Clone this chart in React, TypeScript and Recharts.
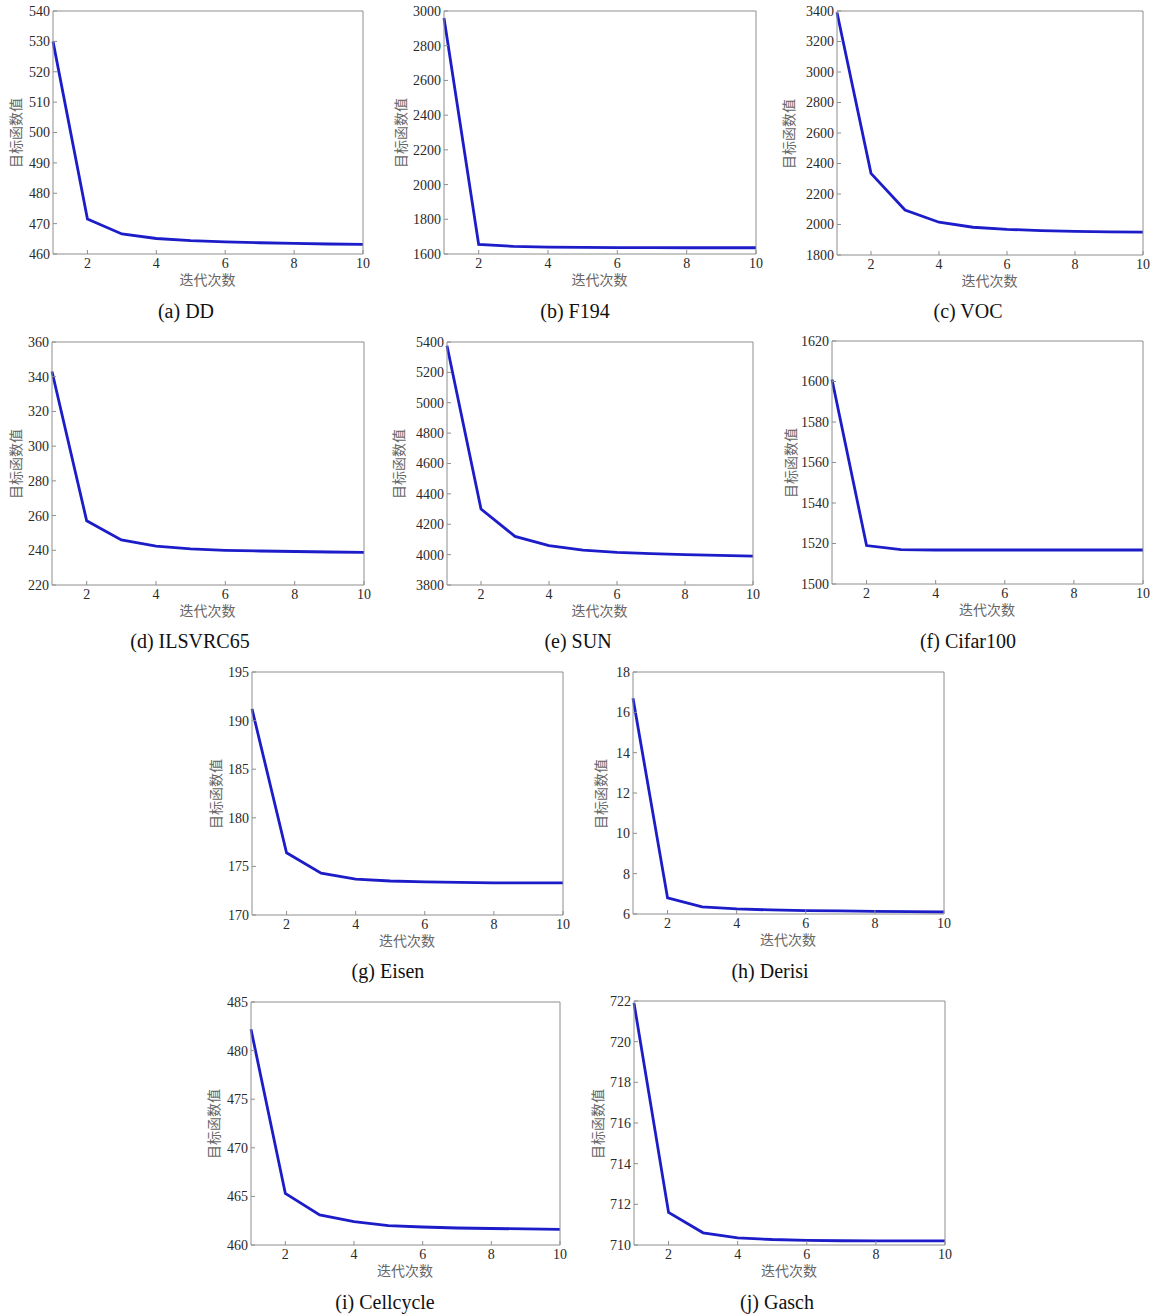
import React from "react";
import { LineChart, Line, XAxis, YAxis } from "recharts";

// iterations on the x axis, shared by every panel
const iterations = [1, 2, 3, 4, 5, 6, 7, 8, 9, 10];
const xTicks = [2, 4, 6, 8, 10];

// objective values
const ddValues = [530, 471.5, 466.6, 465.1, 464.4, 464.0, 463.7, 463.5, 463.3, 463.2];
const f194Values = [2960, 1655, 1644, 1640, 1638, 1637, 1637, 1636, 1636, 1636];
const vocValues = [3390, 2335, 2095, 2015, 1982, 1968, 1960, 1955, 1952, 1950];
const ilsvrcValues = [343, 257, 246, 242.4, 240.8, 240.0, 239.6, 239.3, 239.0, 238.8];
const sunValues = [5375, 4300, 4120, 4060, 4030, 4015, 4006, 4000, 3995, 3990];
const cifarValues = [1601, 1519, 1517, 1516.8, 1516.8, 1516.8, 1516.8, 1516.8, 1516.8, 1516.8];
const eisenValues = [191.2, 176.4, 174.3, 173.7, 173.5, 173.4, 173.35, 173.3, 173.3, 173.3];
const derisiValues = [16.7, 6.8, 6.35, 6.25, 6.2, 6.17, 6.15, 6.13, 6.12, 6.1];
const cellcycleValues = [482.2, 465.3, 463.1, 462.4, 462.0, 461.85, 461.75, 461.7, 461.65, 461.6];
const gaschValues = [721.9, 711.6, 710.6, 710.35, 710.27, 710.23, 710.21, 710.2, 710.2, 710.2];

// y tick labels per panel
const ddTicks = [460, 470, 480, 490, 500, 510, 520, 530, 540];
const f194Ticks = [1600, 1800, 2000, 2200, 2400, 2600, 2800, 3000];
const vocTicks = [1800, 2000, 2200, 2400, 2600, 2800, 3000, 3200, 3400];
const ilsvrcTicks = [220, 240, 260, 280, 300, 320, 340, 360];
const sunTicks = [3800, 4000, 4200, 4400, 4600, 4800, 5000, 5200, 5400];
const cifarTicks = [1500, 1520, 1540, 1560, 1580, 1600, 1620];
const eisenTicks = [170, 175, 180, 185, 190, 195];
const derisiTicks = [6, 8, 10, 12, 14, 16, 18];
const cellcycleTicks = [460, 465, 470, 475, 480, 485];
const gaschTicks = [710, 712, 714, 716, 718, 720, 722];

const Y_LABEL = "目标函数值";
const X_LABEL = "迭代次数";

// box = [left, top, right, bottom] of the plot frame on the page
const panels = [
  { caption: "(a) DD", values: ddValues, ticks: ddTicks, box: [53, 12, 362, 254], labelGap: 38, capX: 186, capY: 311 },
  { caption: "(b) F194", values: f194Values, ticks: f194Ticks, box: [444, 12, 755, 254], labelGap: 44, capX: 575, capY: 311 },
  { caption: "(c) VOC", values: vocValues, ticks: vocTicks, box: [837, 12, 1142, 255], labelGap: 49, capX: 968, capY: 311 },
  { caption: "(d) ILSVRC65", values: ilsvrcValues, ticks: ilsvrcTicks, box: [52, 343, 363, 585], labelGap: 37, capX: 190, capY: 641 },
  { caption: "(e) SUN", values: sunValues, ticks: sunTicks, box: [447, 343, 752, 585], labelGap: 49, capX: 578, capY: 641 },
  { caption: "(f) Cifar100", values: cifarValues, ticks: cifarTicks, box: [832, 342, 1142, 584], labelGap: 42, capX: 968, capY: 641 },
  { caption: "(g) Eisen", values: eisenValues, ticks: eisenTicks, box: [252, 673, 562, 915], labelGap: 37, capX: 388, capY: 971 },
  { caption: "(h) Derisi", values: derisiValues, ticks: derisiTicks, box: [633, 673, 943, 914], labelGap: 33, capX: 770, capY: 971 },
  { caption: "(i) Cellcycle", values: cellcycleValues, ticks: cellcycleTicks, box: [251, 1003, 559, 1245], labelGap: 38, capX: 385, capY: 1302 },
  { caption: "(j) Gasch", values: gaschValues, ticks: gaschTicks, box: [634, 1002, 944, 1245], labelGap: 37, capX: 777, capY: 1302 },
];

const AXIS_W = 60;
const TOP_PAD = 8;
const RIGHT_PAD = 10;
const X_AXIS_H = 24;
const frame = "#8e8e8e";
const tickFont = { fontSize: 14, fill: "#2a2a2a", fontFamily: "Liberation Serif" };

function Panel({ p }: { p: (typeof panels)[number] }) {
  const [l, t, r, b] = p.box;
  const w = r - l;
  const h = b - t;
  const data = iterations.map((it, i) => ({ it, v: p.values[i] }));
  const yMin = p.ticks[0];
  const yMax = p.ticks[p.ticks.length - 1];
  return (
    <>
      <div style={{ position: "absolute", left: l - AXIS_W, top: t - TOP_PAD }}>
        <LineChart
          width={w + AXIS_W + RIGHT_PAD}
          height={h + TOP_PAD + X_AXIS_H}
          data={data}
          margin={{ top: TOP_PAD - 1, right: RIGHT_PAD - 1, left: 0, bottom: 0 }}
        >
          <XAxis
            dataKey="it"
            type="number"
            domain={[1, 10]}
            ticks={xTicks}
            height={X_AXIS_H}
            stroke={frame}
            tickSize={-4}
            tickMargin={8}
            tick={tickFont}
            interval={0}
          />
          <XAxis
            xAxisId="top"
            dataKey="it"
            type="number"
            orientation="top"
            domain={[1, 10]}
            ticks={xTicks}
            height={1}
            mirror
            tick={false}
            tickSize={4}
            stroke={frame}
          />
          <YAxis
            type="number"
            domain={[yMin, yMax]}
            ticks={p.ticks}
            width={AXIS_W}
            stroke={frame}
            tickSize={-4}
            tickMargin={7}
            tick={tickFont}
            interval={0}
            allowDataOverflow
          />
          <YAxis
            yAxisId="right"
            type="number"
            orientation="right"
            domain={[yMin, yMax]}
            ticks={p.ticks}
            width={1}
            mirror
            tick={false}
            tickSize={4}
            stroke={frame}
            allowDataOverflow
          />
          {/* invisible copy so the top/right frame axes get drawn */}
          <Line
            xAxisId="top"
            yAxisId="right"
            type="linear"
            dataKey="v"
            stroke="none"
            dot={false}
            activeDot={false}
            legendType="none"
            isAnimationActive={false}
          />
          <Line
            type="linear"
            dataKey="v"
            stroke="#1c1cc8"
            strokeWidth={2.8}
            dot={false}
            activeDot={false}
            isAnimationActive={false}
          />
        </LineChart>
      </div>
      <div
        style={{
          position: "absolute",
          left: l - p.labelGap - 60,
          top: t + h / 2 - 10,
          width: 120,
          textAlign: "center",
          transform: "rotate(-90deg)",
          fontFamily: "Noto Sans CJK SC",
          fontSize: 14,
          lineHeight: "20px",
          color: "#666",
        }}
      >
        {Y_LABEL}
      </div>
      <div
        style={{
          position: "absolute",
          left: l + w / 2 - 60,
          top: b + 18,
          width: 120,
          textAlign: "center",
          fontFamily: "Noto Sans CJK SC",
          fontSize: 14,
          lineHeight: "15px",
          color: "#666",
        }}
      >
        {X_LABEL}
      </div>
      <div
        style={{
          position: "absolute",
          left: p.capX - 100,
          top: p.capY - 12,
          width: 200,
          textAlign: "center",
          fontFamily: "Liberation Serif",
          fontSize: 20,
          lineHeight: "24px",
          color: "#111",
        }}
      >
        {p.caption}
      </div>
    </>
  );
}

export default function App() {
  return (
    <div style={{ position: "absolute", left: 0, top: 0, width: 1154, height: 1314, background: "#fff" }}>
      {panels.map((p) => (
        <Panel key={p.caption} p={p} />
      ))}
    </div>
  );
}
